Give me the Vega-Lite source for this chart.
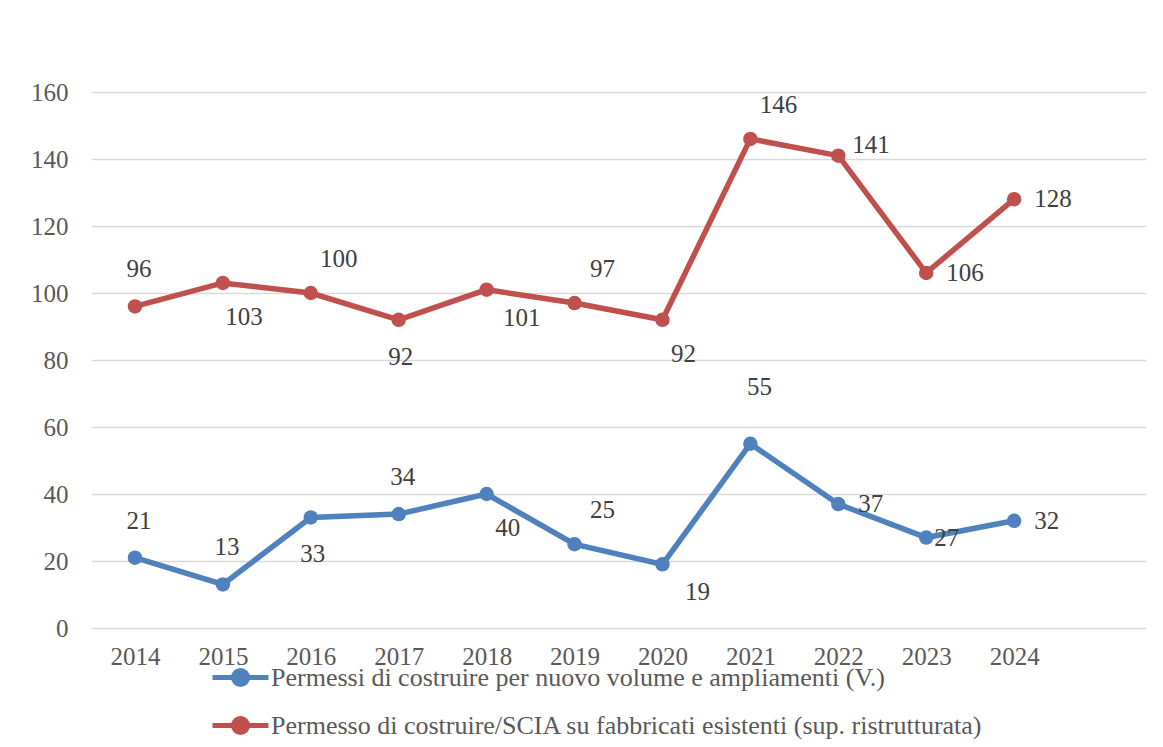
{
  "$schema": "https://vega.github.io/schema/vega-lite/v6.json",
  "autosize": {"type": "none"},
  "width": 1055,
  "height": 536,
  "padding": {"left": 91, "top": 92, "right": 17, "bottom": 119},
  "background": "white",
  "config": {
    "view": {"stroke": null},
    "font": "Liberation Serif",
    "axis": {"labelFont": "Liberation Serif", "labelFontSize": 25, "labelColor": "#595959", "domain": false, "ticks": false, "title": null}
  },
  "data": {
    "values": [
      {"year": 2014, "k": "V", "series": "Permessi di costruire per nuovo volume e ampliamenti (V.)", "value": 21},
      {"year": 2015, "k": "V", "series": "Permessi di costruire per nuovo volume e ampliamenti (V.)", "value": 13},
      {"year": 2016, "k": "V", "series": "Permessi di costruire per nuovo volume e ampliamenti (V.)", "value": 33},
      {"year": 2017, "k": "V", "series": "Permessi di costruire per nuovo volume e ampliamenti (V.)", "value": 34},
      {"year": 2018, "k": "V", "series": "Permessi di costruire per nuovo volume e ampliamenti (V.)", "value": 40},
      {"year": 2019, "k": "V", "series": "Permessi di costruire per nuovo volume e ampliamenti (V.)", "value": 25},
      {"year": 2020, "k": "V", "series": "Permessi di costruire per nuovo volume e ampliamenti (V.)", "value": 19},
      {"year": 2021, "k": "V", "series": "Permessi di costruire per nuovo volume e ampliamenti (V.)", "value": 55},
      {"year": 2022, "k": "V", "series": "Permessi di costruire per nuovo volume e ampliamenti (V.)", "value": 37},
      {"year": 2023, "k": "V", "series": "Permessi di costruire per nuovo volume e ampliamenti (V.)", "value": 27},
      {"year": 2024, "k": "V", "series": "Permessi di costruire per nuovo volume e ampliamenti (V.)", "value": 32},
      {"year": 2014, "k": "E", "series": "Permesso di costruire/SCIA su fabbricati esistenti (sup. ristrutturata)", "value": 96},
      {"year": 2015, "k": "E", "series": "Permesso di costruire/SCIA su fabbricati esistenti (sup. ristrutturata)", "value": 103},
      {"year": 2016, "k": "E", "series": "Permesso di costruire/SCIA su fabbricati esistenti (sup. ristrutturata)", "value": 100},
      {"year": 2017, "k": "E", "series": "Permesso di costruire/SCIA su fabbricati esistenti (sup. ristrutturata)", "value": 92},
      {"year": 2018, "k": "E", "series": "Permesso di costruire/SCIA su fabbricati esistenti (sup. ristrutturata)", "value": 101},
      {"year": 2019, "k": "E", "series": "Permesso di costruire/SCIA su fabbricati esistenti (sup. ristrutturata)", "value": 97},
      {"year": 2020, "k": "E", "series": "Permesso di costruire/SCIA su fabbricati esistenti (sup. ristrutturata)", "value": 92},
      {"year": 2021, "k": "E", "series": "Permesso di costruire/SCIA su fabbricati esistenti (sup. ristrutturata)", "value": 146},
      {"year": 2022, "k": "E", "series": "Permesso di costruire/SCIA su fabbricati esistenti (sup. ristrutturata)", "value": 141},
      {"year": 2023, "k": "E", "series": "Permesso di costruire/SCIA su fabbricati esistenti (sup. ristrutturata)", "value": 106},
      {"year": 2024, "k": "E", "series": "Permesso di costruire/SCIA su fabbricati esistenti (sup. ristrutturata)", "value": 128}
    ]
  },
  "encoding": {
    "x": {
      "field": "year", "type": "quantitative",
      "scale": {"domain": [2013.5, 2025.5], "nice": false, "zero": false},
      "axis": {"values": [2014, 2015, 2016, 2017, 2018, 2019, 2020, 2021, 2022, 2023, 2024], "format": "d", "grid": false, "labelPadding": 16, "labelFlush": false}
    },
    "y": {
      "field": "value", "type": "quantitative",
      "scale": {"domain": [0, 160], "nice": false},
      "axis": {"values": [0, 20, 40, 60, 80, 100, 120, 140, 160], "grid": true, "gridColor": "#D9D9D9", "gridWidth": 1.5, "labelPadding": 23}
    }
  },
  "layer": [
    {
      "mark": {"type": "line", "strokeWidth": 5.5},
      "encoding": {
        "color": {
          "field": "series", "type": "nominal",
          "scale": {
            "domain": ["Permessi di costruire per nuovo volume e ampliamenti (V.)", "Permesso di costruire/SCIA su fabbricati esistenti (sup. ristrutturata)"],
            "range": ["#4F81BD", "#C0504D"]
          },
          "legend": {
            "title": null,
            "orient": "none",
            "direction": "vertical",
            "legendX": 119,
            "legendY": 555,
            "padding": 0,
            "symbolType": "M-1,0H1M-0.25,0A0.25,0.25 0 1,0 0.25,0A0.25,0.25 0 1,0 -0.25,0Z",
            "symbolSize": 3136,
            "symbolStrokeWidth": 5,
            "symbolOpacity": 1,
            "labelFont": "Liberation Serif",
            "labelFontSize": 26,
            "labelColor": "#595959",
            "labelOffset": 0,
            "labelLimit": 1000,
            "rowPadding": -19,
            "encode": {"symbols": {"update": {"fill": {"scale": "color", "field": "value"}, "stroke": {"scale": "color", "field": "value"}}}}
          }
        }
      }
    },
    {
      "mark": {"type": "point", "filled": true, "size": 210, "opacity": 1},
      "encoding": {"color": {"field": "series", "type": "nominal"}}
    },
    {
      "transform": [{"filter": "(datum.k=='E' && datum.year==2014) || (datum.k=='V' && (datum.year==2014 || datum.year==2015 || datum.year==2017))"}],
      "mark": {"type": "text", "dx": 4, "dy": -37, "align": "center", "baseline": "middle", "fontSize": 25, "font": "Liberation Serif", "color": "#404040"},
      "encoding": {"text": {"field": "value", "type": "quantitative"}}
    },
    {
      "transform": [{"filter": "(datum.k=='E' && (datum.year==2016 || datum.year==2019 || datum.year==2021)) || (datum.k=='V' && datum.year==2019)"}],
      "mark": {"type": "text", "dx": 28, "dy": -34, "align": "center", "baseline": "middle", "fontSize": 25, "font": "Liberation Serif", "color": "#404040"},
      "encoding": {"text": {"field": "value", "type": "quantitative"}}
    },
    {
      "transform": [{"filter": "(datum.k=='E' && (datum.year==2015 || datum.year==2020)) || (datum.k=='V' && datum.year==2018)"}],
      "mark": {"type": "text", "dx": 21, "dy": 34, "align": "center", "baseline": "middle", "fontSize": 25, "font": "Liberation Serif", "color": "#404040"},
      "encoding": {"text": {"field": "value", "type": "quantitative"}}
    },
    {
      "transform": [{"filter": "(datum.k=='E' && datum.year==2018) || (datum.k=='V' && datum.year==2020)"}],
      "mark": {"type": "text", "dx": 35, "dy": 28, "align": "center", "baseline": "middle", "fontSize": 25, "font": "Liberation Serif", "color": "#404040"},
      "encoding": {"text": {"field": "value", "type": "quantitative"}}
    },
    {
      "transform": [{"filter": "(datum.k=='E' && datum.year==2017) || (datum.k=='V' && datum.year==2016)"}],
      "mark": {"type": "text", "dx": 2, "dy": 37, "align": "center", "baseline": "middle", "fontSize": 25, "font": "Liberation Serif", "color": "#404040"},
      "encoding": {"text": {"field": "value", "type": "quantitative"}}
    },
    {
      "transform": [{"filter": "(datum.k=='E' && (datum.year==2023 || datum.year==2024)) || (datum.k=='V' && (datum.year==2022 || datum.year==2024))"}],
      "mark": {"type": "text", "dx": 20, "dy": 0, "align": "left", "baseline": "middle", "fontSize": 25, "font": "Liberation Serif", "color": "#404040"},
      "encoding": {"text": {"field": "value", "type": "quantitative"}}
    },
    {
      "transform": [{"filter": "datum.k=='E' && datum.year==2022"}],
      "mark": {"type": "text", "dx": 14, "dy": -11, "align": "left", "baseline": "middle", "fontSize": 25, "font": "Liberation Serif", "color": "#404040"},
      "encoding": {"text": {"field": "value", "type": "quantitative"}}
    },
    {
      "transform": [{"filter": "datum.k=='V' && datum.year==2023"}],
      "mark": {"type": "text", "dx": 8, "dy": 0, "align": "left", "baseline": "middle", "fontSize": 25, "font": "Liberation Serif", "color": "#404040"},
      "encoding": {"text": {"field": "value", "type": "quantitative"}}
    },
    {
      "transform": [{"filter": "datum.k=='V' && datum.year==2021"}],
      "mark": {"type": "text", "dx": 9, "dy": -57, "align": "center", "baseline": "middle", "fontSize": 25, "font": "Liberation Serif", "color": "#404040"},
      "encoding": {"text": {"field": "value", "type": "quantitative"}}
    }
  ]
}
